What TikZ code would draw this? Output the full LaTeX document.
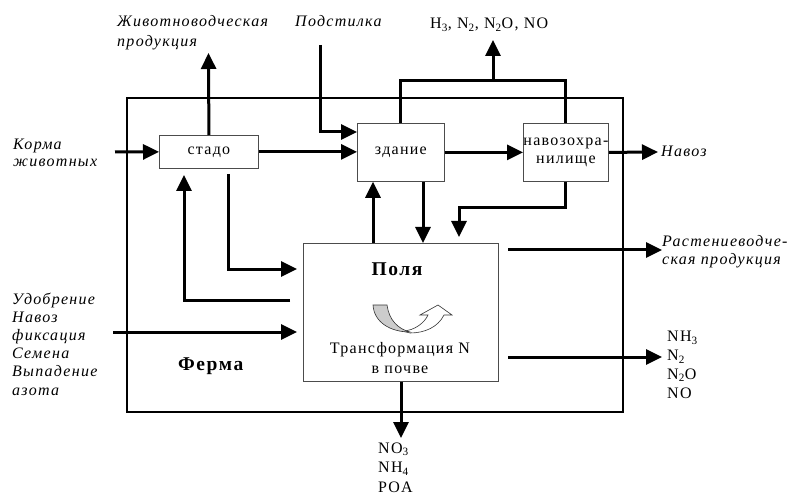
\documentclass[tikz,border=0pt]{standalone}
\usepackage{fontspec}
\setmainfont{Liberation Serif}[LetterSpace=8]
\usetikzlibrary{arrows.meta}
\begin{document}
\begin{tikzpicture}[x=1pt,y=-1pt,
  arr/.style={line width=3pt,-{Triangle[length=16pt,width=15pt]}},
  fl/.style={line width=3pt},
  box/.style={draw=black!70,line width=0.8pt,fill=white,anchor=north west,inner sep=0},
  lbl/.style={font=\fontsize{16}{18.3}\selectfont\itshape,inner sep=0,align=left},
  txt/.style={font=\fontsize{16}{18}\selectfont,inner sep=0},
  bld/.style={font=\fontsize{19.5}{22}\selectfont\bfseries,inner sep=0},
]
\useasboundingbox (0,0) rectangle (789,494);
% farm frame
\draw[line width=1.6pt] (127,98) rectangle (623,412);
% boxes
\node[box,minimum width=99pt,minimum height=33pt,txt] (stado) at (159,135) {стадо};
\node[box,minimum width=87pt,minimum height=58pt,txt] (zdanie) at (357,123) {здание};
\node[box,minimum width=85pt,minimum height=58pt,txt,align=center] (hran) at (523,123) {навозохра-\\нилище};
\node[box,minimum width=195pt,minimum height=138pt] (polya) at (303,243) {};
% inside fields
\node[bld,anchor=base] (polyaT) at (397,275) {Поля};
\node[txt,anchor=base] (tr1) at (400,353) {Трансформация N};
\node[txt,anchor=base] (tr2) at (400,373) {в почве};
\node[bld,anchor=base west] (ferma) at (178,370) {Ферма};
% icon
\draw[fill=white,draw=black!80,line width=0.6pt] (402,331) .. controls (415,331) and (425,322) .. (428,315) -- (420,315) -- (438,305) -- (452,315) -- (444,315) .. controls (438,327) and (425,333) .. (410,333) -- cycle;
\draw[fill=black!20,draw=black!80,line width=0.6pt] (373,305) -- (387,305) .. controls (389,320) and (398,329) .. (410,332) .. controls (390,332) and (374,322) .. (373,305) -- cycle;
% labels (base = last line's baseline)
\node[lbl,anchor=base west,font=\fontsize{16}{20}\selectfont\itshape] (zhivL) at (117,47) {Животноводческая\\продукция};
\node[lbl,anchor=base west] (podL) at (295,27) {Подстилка};
\node[txt,anchor=base west] (gasL) at (430,29) {H\textsubscript{3}, N\textsubscript{2}, N\textsubscript{2}O, NO};
\node[lbl,anchor=base west,font=\fontsize{16}{17}\selectfont\itshape] (kormaL) at (13,167) {Корма\\животных};
\node[lbl,anchor=base west,font=\fontsize{16}{18.2}\selectfont\itshape] (inL) at (12,395) {Удобрение\\Навоз\\фиксация\\Семена\\Выпадение\\азота};
\node[lbl,anchor=base west] (navozL) at (661,157) {Навоз};
\node[lbl,anchor=base west,font=\fontsize{16}{18}\selectfont\itshape] (rastL) at (662,265) {Растениеводче-\\ская продукция};
\node[txt,anchor=base west,align=left,font=\fontsize{16}{18.7}\selectfont] (outR) at (667,398) {NH\textsubscript{3}\\N\textsubscript{2}\\N\textsubscript{2}O\\NO};
\node[txt,anchor=base west,align=left,font=\fontsize{16}{19.5}\selectfont] (outB) at (378,492) {NO\textsubscript{3}\\NH\textsubscript{4}\\POA};
% coordinates for free ends
\coordinate (kormaS) at (115,152);
\coordinate (zhivE) at (208.5,53);
\coordinate (podS) at (320,45);
\coordinate (navozE) at (658,152);
\coordinate (gasM) at (493,81);
\coordinate (gasE) at (493,40);
\coordinate (retS) at (290,300);
\coordinate (retE) at (184,175);
\coordinate (sdS) at (228,174);
\coordinate (sdE) at (297,269);
\coordinate (inS) at (113,332);
\coordinate (inE) at (297,332);
\coordinate (hranE) at (459,237);
\coordinate (rastS) at (508,250);
\coordinate (rastE) at (662,250);
\coordinate (gasRS) at (508,357);
\coordinate (gasRE) at (662,357);
\coordinate (botE) at (401,438);
% connectors
\draw[arr] (kormaS) -- (stado.west);
\draw[arr] (stado.north) -- (zhivE);
\draw[arr] (podS) |- ([yshift=-9pt]zdanie.north west);
\draw[arr] (stado.east) -- (stado.east -| zdanie.west);
\draw[arr] (zdanie.east) -- (hran.west);
\draw[arr] (hran.east) -- (navozE);
\draw[fl,line join=miter] (zdanie.north) -- ++(0,-42) -| (hran.north);
\draw[arr] (gasM) -- (gasE);
\draw[arr] (polya.north -| 373,0) -- (zdanie.south -| 373,0);
\draw[arr] (zdanie.south -| 423,0) -- (polya.north -| 423,0);
\draw[arr,line join=miter] (hran.south) |- (459,208) -- (hranE);
\draw[arr,line join=miter] (retS) -| (retE);
\draw[arr,line join=miter] (sdS) |- (sdE);
\draw[arr] (inS) -- (inE);
\draw[arr] (rastS) -- (rastE);
\draw[arr] (gasRS) -- (gasRE);
\draw[arr] (polya.south -| 401,0) -- (botE);
\end{tikzpicture}
\end{document}
